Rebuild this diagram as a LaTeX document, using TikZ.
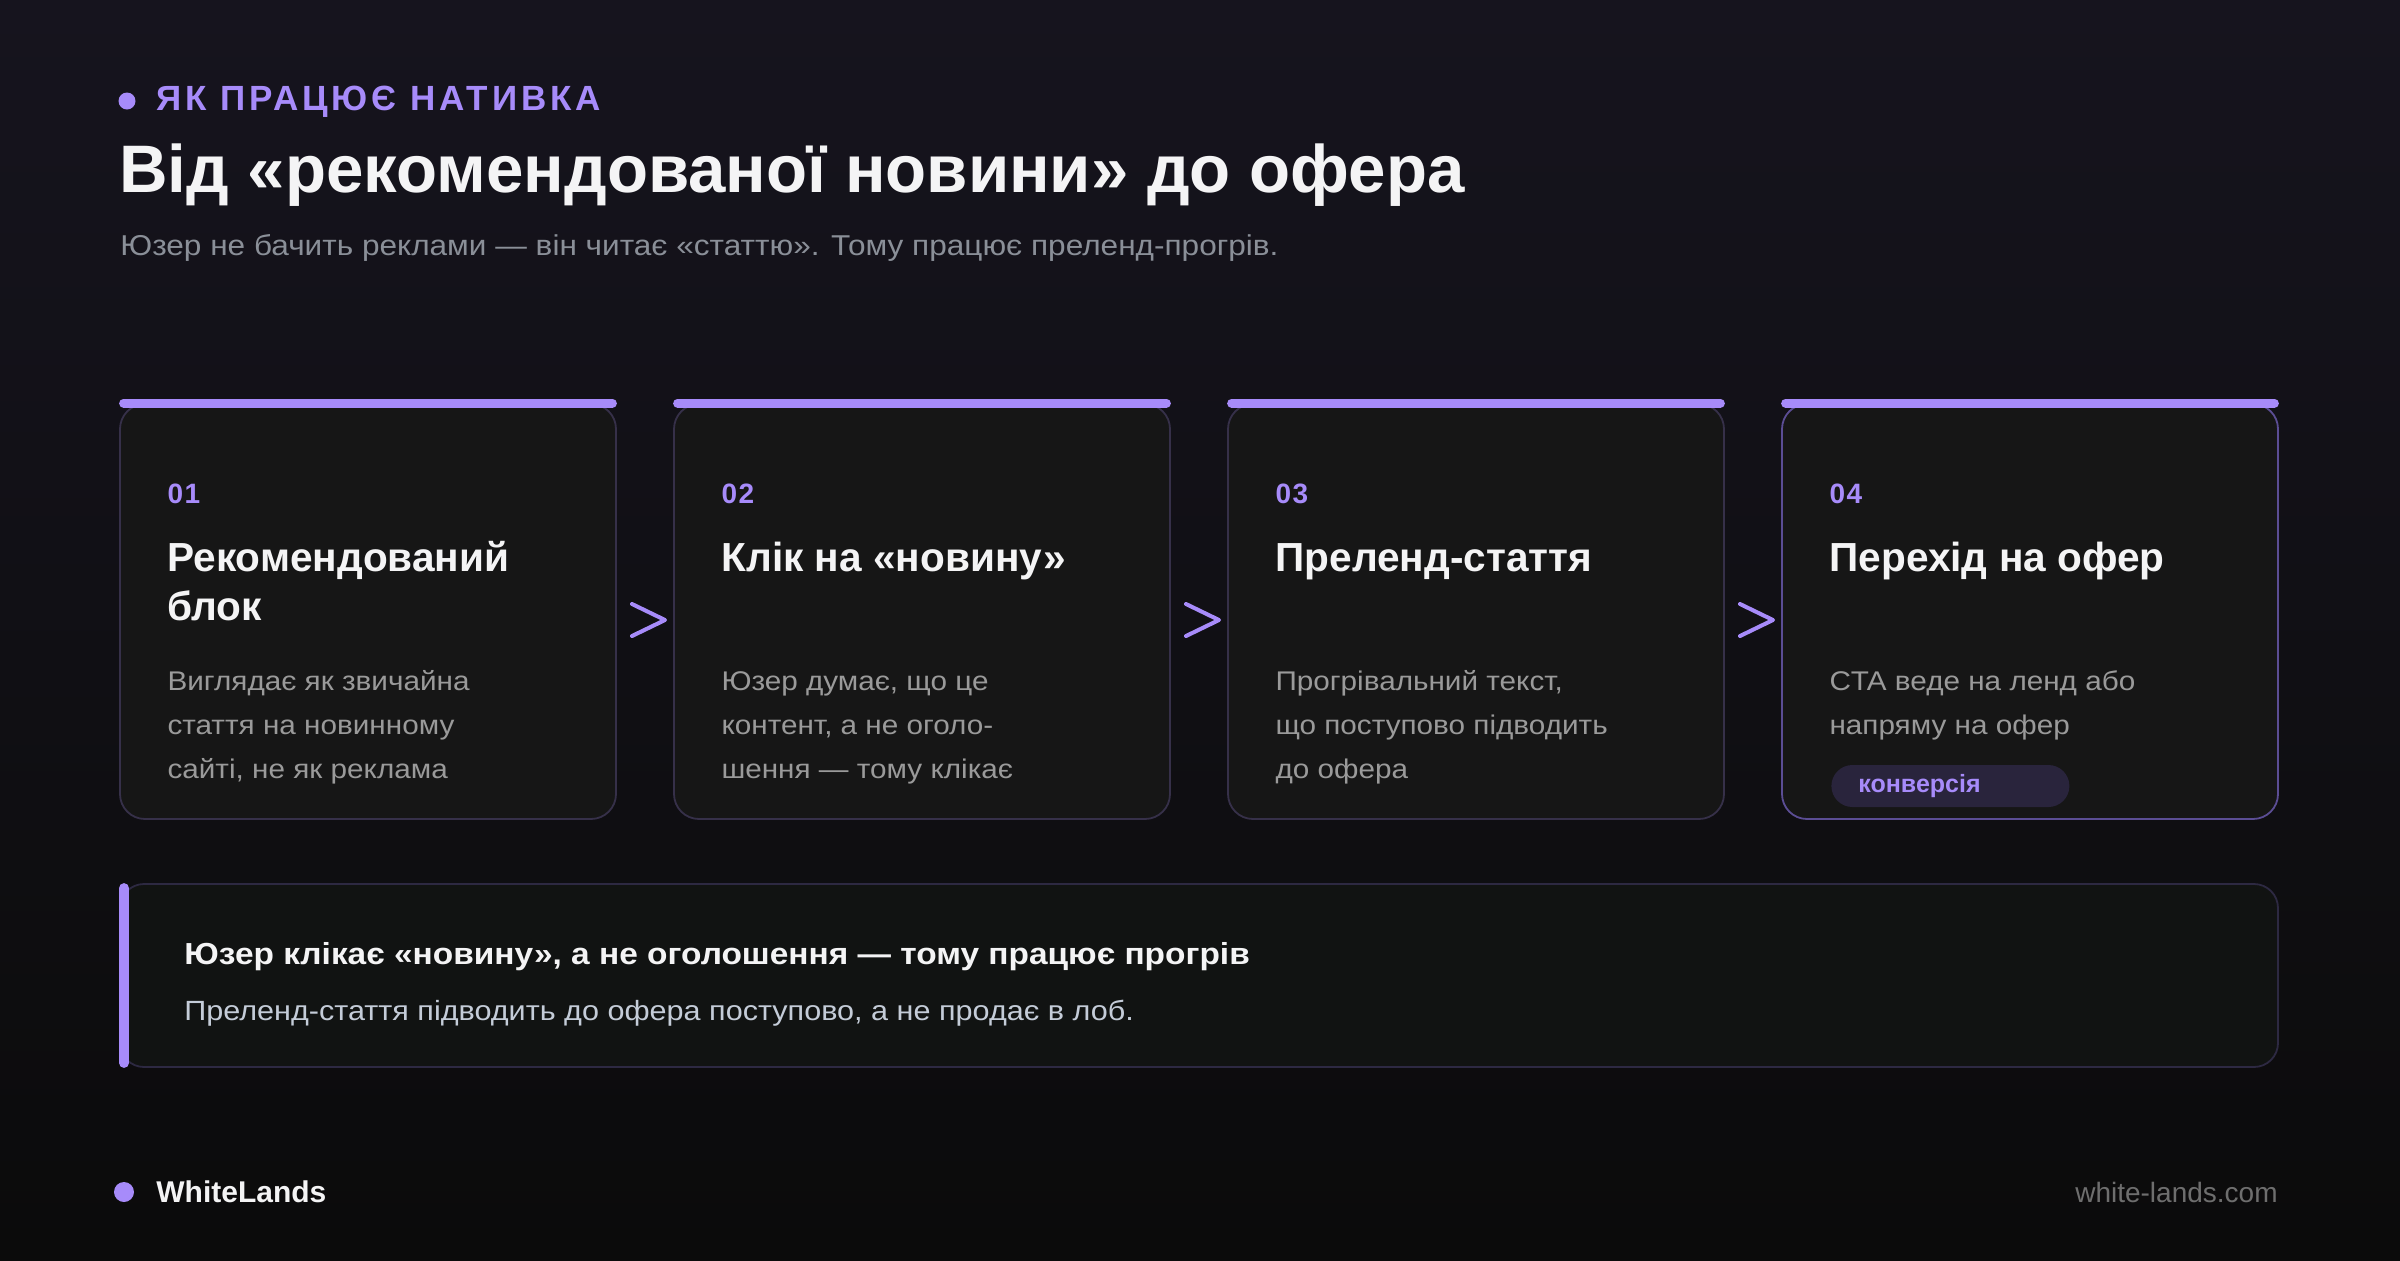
\documentclass[tikz,border=0pt]{standalone}
\usepackage{fontspec}
\setmainfont{Liberation Sans}
\newfontfamily\kickfont{Liberation Sans}[LetterSpace=11]
\newfontfamily\numfont{Liberation Sans}[LetterSpace=6]
\newfontfamily\widefont{Liberation Sans}[FakeStretch=1.1]
\usetikzlibrary{calc,positioning}
\definecolor{accent}{HTML}{A78BFA}
\definecolor{bgtop}{HTML}{16141E}
\definecolor{bgbot}{HTML}{0B0B0B}
\definecolor{cardfill}{HTML}{161616}
\definecolor{cardline}{HTML}{363049}
\definecolor{cardhot}{HTML}{5B4D94}
\definecolor{greytxt}{HTML}{9A9A9A}
\definecolor{subtxt}{HTML}{8A8F98}
\definecolor{notefill}{HTML}{111312}
\definecolor{noteline}{HTML}{2D2942}
\definecolor{notetxt}{HTML}{C4CCD8}
\definecolor{pillfill}{HTML}{29243C}
\definecolor{urltxt}{HTML}{6E6E6E}
\definecolor{whitetxt}{HTML}{F4F4F5}

\tikzset{
  card/.style={draw=cardline, line width=0.9pt, fill=cardfill, rounded corners=12.5pt,
    minimum width=248pt, minimum height=207.5pt, inner sep=0pt},
  topbar/.style={accent, line width=4.5pt, line cap=round},
  stepnum/.style={anchor=base west, inner sep=0pt, text=accent, font=\numfont\bfseries\fontsize{14}{17}\selectfont},
  stephead/.style={anchor=base west, inner sep=0pt, align=left, text=whitetxt, font=\bfseries\fontsize{20.3}{24.5}\selectfont},
  stepdesc/.style={anchor=base west, inner sep=0pt, align=left, text=greytxt, font=\widefont\fontsize{13.5}{22}\selectfont},
  chev/.style={accent, line width=2pt, line cap=round, line join=round},
}

\begin{document}
\begin{tikzpicture}[x=0.5pt,y=-0.5pt]
        \useasboundingbox (0,0) rectangle (2400,1260);
        \shade[top color=bgtop, bottom color=bgbot] (0,0) rectangle (2400,1260);
        % header
        \fill[accent] (127,101) circle (8.5);
        \node[anchor=base west, inner sep=0pt, text=accent, font=\kickfont\bfseries\fontsize{17.5}{20}\selectfont] (kicker) at (156,110) {ЯК ПРАЦЮЄ НАТИВКА};
        \node[anchor=base west, inner sep=0pt, text=whitetxt, font=\bfseries\fontsize{33.6}{40}\selectfont] (title) at (119,192) {Від «рекомендованої новини» до офера};
        \node[anchor=base west, inner sep=0pt, text=subtxt, font=\widefont\fontsize{14.35}{16}\selectfont] (subtitle) at (120,255) {Юзер не бачить реклами — він читає «статтю». Тому працює преленд-прогрів.};
        % cards
        \node[card] (card1) at (368,611.5) {};
        \node[card] (card2) at (922,611.5) {};
        \node[card] (card3) at (1476,611.5) {};
        \node[card, draw=cardhot] (card4) at (2030,611.5) {};
        \draw[topbar] ($(card1.north west)+(4.5,0)$) -- ($(card1.north east)+(-4.5,0)$);
        \draw[topbar] ($(card2.north west)+(4.5,0)$) -- ($(card2.north east)+(-4.5,0)$);
        \draw[topbar] ($(card3.north west)+(4.5,0)$) -- ($(card3.north east)+(-4.5,0)$);
        \draw[topbar] ($(card4.north west)+(4.5,0)$) -- ($(card4.north east)+(-4.5,0)$);
        \node[stepnum] (num1) at ($(card1.north west)+(48,100)$) {01};
        \node[stepnum] (num2) at ($(card2.north west)+(48,100)$) {02};
        \node[stepnum] (num3) at ($(card3.north west)+(48,100)$) {03};
        \node[stepnum] (num4) at ($(card4.north west)+(48,100)$) {04};
        % base of a two-line node is its last line
        \node[stephead] (head1) at ($(card1.north west)+(48,217)$) {Рекомендований\\блок};
        \node[stephead] (head2) at ($(card2.north west)+(48,168)$) {Клік на «новину»};
        \node[stephead] (head3) at ($(card3.north west)+(48,168)$) {Преленд-стаття};
        \node[stephead] (head4) at ($(card4.north west)+(48,168)$) {Перехід на офер};
        \node[stepdesc] (desc1) at ($(card1.north west)+(48,375)$) {Виглядає як звичайна\\стаття на новинному\\сайті, не як реклама};
        \node[stepdesc] (desc2) at ($(card2.north west)+(48,375)$) {Юзер думає, що це\\контент, а не оголо-\\шення — тому клікає};
        \node[stepdesc] (desc3) at ($(card3.north west)+(48,375)$) {Прогрівальний текст,\\що поступово підводить\\до офера};
        \node[stepdesc] (desc4) at ($(card4.north west)+(48,331)$) {CTA веде на ленд або\\напряму на офер};
        \node[anchor=west, fill=pillfill, rounded corners=10.5pt, minimum height=21pt, text width=92pt,
              inner xsep=13.5pt, inner ysep=0pt, align=left, text=accent,
              font=\bfseries\fontsize{12.5}{15}\selectfont] (tag) at (1831,786) {конверсія};
        % chevrons between the steps
        \coordinate (arr1) at ($(card1.east)!0.5!(card2.west)+(3,8.5)$);
        \coordinate (arr2) at ($(card2.east)!0.5!(card3.west)+(3,8.5)$);
        \coordinate (arr3) at ($(card3.east)!0.5!(card4.west)+(3,8.5)$);
        \draw[chev] ($(arr1)+(-16,-16)$) -- ($(arr1)+(17,0)$) -- ($(arr1)+(-16,16)$);
        \draw[chev] ($(arr2)+(-16,-16)$) -- ($(arr2)+(17,0)$) -- ($(arr2)+(-16,16)$);
        \draw[chev] ($(arr3)+(-16,-16)$) -- ($(arr3)+(17,0)$) -- ($(arr3)+(-16,16)$);
        % takeaway banner
        \node[draw=noteline, line width=0.9pt, fill=notefill, rounded corners=12pt,
              minimum width=1079pt, minimum height=91.5pt, inner sep=0pt] (note) at (1199,975.5) {};
        \draw[accent, line width=5pt, line cap=round] ($(note.north west)+(5,5)$) -- ($(note.south west)+(5,-5)$);
        \node[anchor=base west, inner sep=0pt, text=whitetxt, font=\widefont\bfseries\fontsize{15.2}{18}\selectfont] (notehead) at (184,964) {Юзер клікає «новину», а не оголошення — тому працює прогрів};
        \node[anchor=base west, inner sep=0pt, text=notetxt, font=\widefont\fontsize{13.9}{16}\selectfont] (notetext) at (184,1020) {Преленд-стаття підводить до офера поступово, а не продає в лоб.};
        % footer
        \fill[accent] (124,1192) circle (10);
        \node[anchor=base west, inner sep=0pt, text=whitetxt, font=\bfseries\fontsize{15}{18}\selectfont] (brand) at (156,1202) {WhiteLands};
        \node[anchor=base east, inner sep=0pt, text=urltxt, font=\fontsize{14}{17}\selectfont] (url) at (2278,1202) {white-lands.com};
    \end{tikzpicture}
\end{document}
